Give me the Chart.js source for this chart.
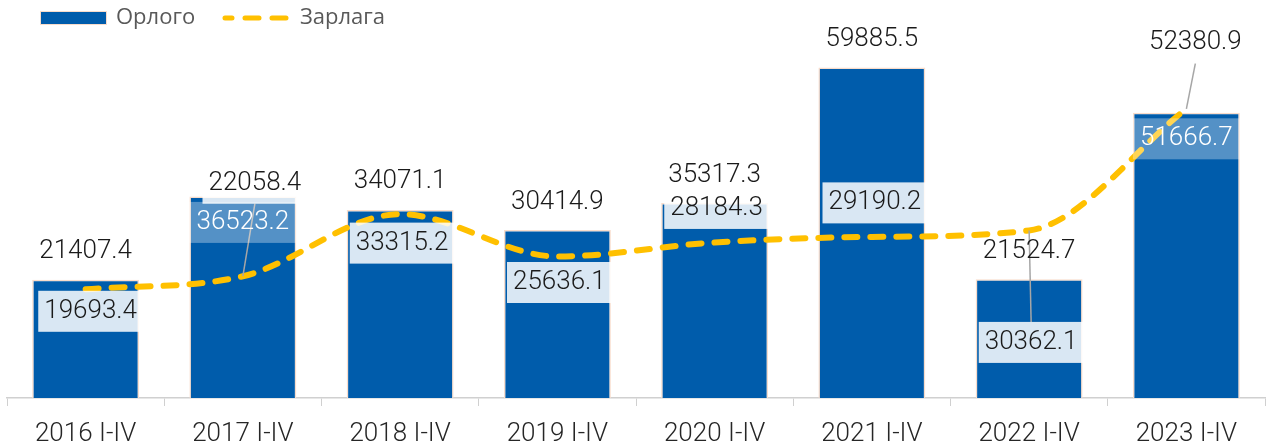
<!DOCTYPE html>
<html>
<head>
<meta charset="utf-8">
<script src="https://cdn.jsdelivr.net/npm/chart.js@4.4.0/dist/chart.umd.min.js"></script>
<style>
  html, body { margin: 0; padding: 0; background: #fff; }
  #wrap { width: 1269px; height: 445px; }
</style>
</head>
<body>
<div id="wrap"><canvas id="chart"></canvas></div>
<script>
// Data
const categories = ['2016 I-IV', '2017 I-IV', '2018 I-IV', '2019 I-IV', '2020 I-IV', '2021 I-IV', '2022 I-IV', '2023 I-IV'];
const orlogo = [21407.4, 36523.2, 34071.1, 30414.9, 35317.3, 59885.5, 21524.7, 51666.7];
const zarlaga = [19693.4, 22058.4, 33315.2, 25636.1, 28184.3, 29190.2, 30362.1, 52380.9];

// Label placement (pixel shifts relative to the drawn element)
const barLabelInside = [false, true, false, false, false, false, false, true];
const lineLabelShift = [[5, 22], [12, -93], [2, 29], [2, 26], [2, -34], [3, -34], [2, 112], [9, -66]];
const lineLabelLeader = [false, true, false, false, false, false, true, true];

const BLUE = '#005CAB';
const GOLD = '#FFC000';
const PEACH = '#F8DCCB';
const LABEL_FONT = '300 26px Roboto';
const BOX_H = 41;

function fmt(v) { return v.toFixed(1); }

// data labels for both series
const labelPlugin = {
  id: 'dataLabels',
  afterDatasetsDraw(chart) {
    const ctx = chart.ctx;
    const barMeta = chart.getDatasetMeta(0);
    const lineMeta = chart.getDatasetMeta(1);
    ctx.save();
    ctx.font = LABEL_FONT;
    ctx.textAlign = 'center';
    ctx.textBaseline = 'middle';

    lineMeta.data.forEach((pt, i) => {
      const [dx, dy] = lineLabelShift[i];
      const cx = pt.x + dx;
      const cy = pt.y + dy;
      const txt = fmt(zarlaga[i]);
      const w = ctx.measureText(txt).width + 12;
      if (lineLabelLeader[i]) {
        ctx.strokeStyle = '#A6A6A6';
        ctx.lineWidth = 1.5;
        ctx.beginPath();
        ctx.moveTo(pt.x, pt.y);
        ctx.lineTo(cx, dy > 0 ? cy - BOX_H / 2 : cy + BOX_H / 2);
        ctx.stroke();
      }
      ctx.fillStyle = 'rgba(255,255,255,0.85)';
      ctx.fillRect(cx - w / 2, cy - BOX_H / 2, w, BOX_H);
      ctx.fillStyle = '#1A1A1A';
      ctx.fillText(txt, cx, cy);
    });

    barMeta.data.forEach((bar, i) => {
      const txt = fmt(orlogo[i]);
      if (barLabelInside[i]) {
        const cy = bar.y + 26;
        ctx.fillStyle = 'rgba(255,255,255,0.33)';
        ctx.fillRect(bar.x - bar.width / 2, cy - BOX_H / 2, bar.width, BOX_H);
        ctx.fillStyle = '#FFFFFF';
        ctx.fillText(txt, bar.x, cy);
      } else {
        ctx.fillStyle = '#1A1A1A';
        ctx.fillText(txt, bar.x, bar.y - 28);
      }
    });
    ctx.restore();
  }
};

// legend in the top-left corner
const legendPlugin = {
  id: 'topLegend',
  afterDraw(chart) {
    const ctx = chart.ctx;
    ctx.save();
    ctx.fillStyle = BLUE;
    ctx.fillRect(40, 11, 67, 14);
    ctx.strokeStyle = PEACH;
    ctx.lineWidth = 1;
    ctx.strokeRect(40.5, 11.5, 66, 13);

    ctx.font = '22px "Open Sans"';
    ctx.fillStyle = '#595959';
    ctx.textBaseline = 'middle';
    ctx.textAlign = 'left';
    ctx.fillText('Орлого', 116, 18);

    ctx.strokeStyle = GOLD;
    ctx.lineWidth = 5;
    ctx.lineCap = 'round';
    ctx.setLineDash([14, 13]);
    ctx.lineDashOffset = 7;
    ctx.beginPath();
    ctx.moveTo(225, 18);
    ctx.lineTo(293, 18);
    ctx.stroke();
    ctx.setLineDash([]);
    ctx.fillText('Зарлага', 300, 18);
    ctx.restore();
  }
};

new Chart(document.getElementById('chart'), {
  type: 'bar',
  data: {
    labels: categories,
    datasets: [
      {
        label: 'Орлого',
        data: orlogo,
        backgroundColor: BLUE,
        borderColor: PEACH,
        borderWidth: 1.5,
        barPercentage: 1,
        categoryPercentage: 0.68,
        order: 1
      },
      {
        label: 'Зарлага',
        type: 'line',
        data: zarlaga,
        borderColor: GOLD,
        borderWidth: 6,
        borderDash: [13, 13],
        borderCapStyle: 'round',
        pointRadius: 0,
        fill: false,
        cubicInterpolationMode: 'monotone',
        order: 0
      }
    ]
  },
  options: {
    responsive: true,
    maintainAspectRatio: false,
    animation: false,
    layout: { padding: { left: 7, right: 4, top: 40, bottom: 0 } },
    plugins: {
      legend: { display: false },
      tooltip: { enabled: false }
    },
    scales: {
      x: {
        afterFit(scale) { scale.height = 47; },
        grid: { offset: true, drawOnChartArea: false, tickLength: 8, color: '#D0D0D0' },
        border: { color: '#D0D0D0', width: 1.5 },
        ticks: { color: '#262626', padding: 13, font: { family: 'Roboto', size: 26, weight: '300' } }
      },
      y: { display: false, min: 0, max: 64860 }
    }
  },
  plugins: [labelPlugin, legendPlugin]
});
</script>
</body>
</html>
